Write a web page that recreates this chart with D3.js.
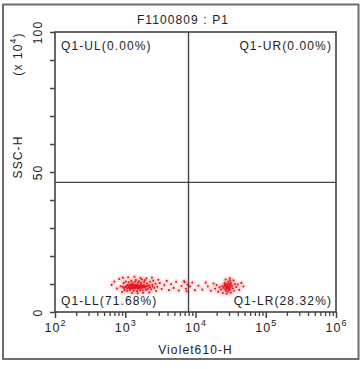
<!DOCTYPE html>
<html>
<head>
<meta charset="utf-8">
<script src="https://cdn.jsdelivr.net/npm/d3@7"></script>
<style>
  body { margin: 0; background: #fff; }
  svg text { font-family: "Liberation Sans", Arial, sans-serif; fill: #222; letter-spacing: 1.1px; }
</style>
</head>
<body>
<div id="chart"></div>
<script>
// events: [Violet610-H, SSC-H (x 10^4)]
const llEvents = [
  [1010, 8.9], [1040, 9.3], [1060, 8.5], [1090, 9.6], [1110, 9.0], [1130, 8.7], [1150, 9.4], [1160, 8.3],
  [1180, 9.8], [1200, 9.1], [1210, 8.6], [1230, 9.5], [1250, 8.9], [1260, 9.2], [1280, 8.4], [1300, 9.7],
  [1310, 9.0], [1330, 8.6], [1340, 9.3], [1360, 8.8], [1380, 9.6], [1390, 9.1], [1410, 8.5], [1430, 9.4],
  [1440, 8.9], [1460, 9.8], [1480, 8.7], [1500, 9.2], [1520, 8.4], [1540, 9.5], [1560, 9.0], [1580, 8.6],
  [1610, 9.3], [1640, 8.9], [1670, 9.7], [1700, 8.5], [1730, 9.1], [1760, 9.4], [1800, 8.8], [1840, 9.6],
  [1880, 9.0], [1930, 8.7], [1980, 9.3], [920, 9.0], [960, 8.6], [2100, 9.2], [2250, 8.8], [2450, 9.1],
  [950, 10.4], [980, 7.8], [1020, 10.9], [1070, 7.5], [1120, 10.6], [1170, 7.9], [1220, 11.1], [1270, 10.3],
  [1320, 7.6], [1370, 10.8], [1420, 11.4], [1470, 7.4], [1520, 10.5], [1570, 11.0], [1620, 7.8], [1680, 10.4],
  [1720, 11.6], [1780, 7.7], [1850, 10.7], [1900, 11.3], [1960, 7.9], [2040, 10.2], [2100, 8.3], [2180, 9.5],
  [2260, 10.8], [2340, 8.1], [2420, 9.7], [2500, 11.2], [2600, 8.6], [2700, 10.1], [2850, 9.0], [2950, 11.5],
  [640, 9.7], [700, 10.9], [760, 8.4], [820, 11.8], [860, 9.2], [900, 7.1], [930, 12.2], [1100, 12.4],
  [1250, 6.8], [1350, 12.6], [1500, 6.7], [1650, 12.1], [1800, 6.9], [2000, 12.0], [2200, 7.0], [2400, 12.3],
  [2750, 7.5], [3100, 10.4], [3300, 8.2], [3600, 9.6], [3900, 11.1], [4200, 7.8], [4500, 9.9], [4900, 8.6],
  [5300, 10.8], [5800, 7.7], [6300, 9.3], [6900, 11.0], [7000, 10.6], [7300, 8.3], [7500, 7.4], [7700, 9.7]
];

const lrEvents = [
  [25000, 8.6], [25800, 9.4], [26500, 8.1], [27000, 9.0], [27500, 9.8], [28000, 8.4], [28500, 9.3], [29000, 8.7],
  [29500, 10.1], [30000, 9.0], [30500, 8.2], [31000, 9.6], [31500, 8.8], [32000, 10.3], [27200, 7.6], [28800, 7.3],
  [30200, 7.8], [26000, 10.4], [29200, 10.8], [31200, 11.2], [33000, 9.4], [34000, 8.5], [24000, 9.2], [23000, 8.0],
  [22000, 8.8], [26200, 9.7], [28200, 10.0], [30800, 9.9], [27700, 8.9], [29800, 8.3],
  [21000, 7.2], [20000, 9.6], [19000, 8.3], [18000, 10.2], [16500, 7.6], [15000, 9.1], [14000, 10.5], [12500, 8.0],
  [11000, 9.4], [24500, 6.8], [27800, 6.5], [31800, 6.9], [35500, 7.6], [36500, 10.0], [38000, 8.9], [40000, 9.8],
  [42000, 7.9], [45000, 10.4], [48000, 9.1], [26800, 11.6], [30800, 12.0], [34800, 11.3], [8400, 9.1], [9000, 10.5],
  [9800, 7.8]
];

const xDomain = [1e2, 1e6];
const yDomain = [0, 100];
const xMajorTicks = [1e2, 1e3, 1e4, 1e5, 1e6];
const yTicks = d3.range(0, 101, 10);
const yLabeled = [0, 50, 100];
const quadGate = { x: 7950, y: 46.3 };
const quadLabels = [
  { name: "Q1-UL(0.00%)", pos: "ul" },
  { name: "Q1-UR(0.00%)", pos: "ur" },
  { name: "Q1-LL(71.68%)", pos: "ll" },
  { name: "Q1-LR(28.32%)", pos: "lr" }
];
const title = "F1100809 : P1";
const xTitle = "Violet610-H";
const yTitle = "SSC-H";

const width = 363;
const height = 369;
const margin = { top: 32, right: 27, bottom: 57, left: 55 };
const lineColor = "#444";

const svg = d3.select("#chart").append("svg")
  .attr("width", width)
  .attr("height", height);

// outer frame
svg.append("rect")
  .attr("x", 3).attr("y", 4.5)
  .attr("width", 355.5).attr("height", 354.5)
  .attr("fill", "none")
  .attr("stroke", "#6e6e6e")
  .attr("stroke-width", 2);

const x = d3.scaleLog()
  .domain(xDomain)
  .range([margin.left, width - margin.right]);

const y = d3.scaleLinear()
  .domain(yDomain)
  .range([height - margin.bottom, margin.top]);

const x0 = x.range()[0], x1 = x.range()[1];
const y0 = y.range()[0], y1 = y.range()[1];

// x minor ticks
const xMinor = [];
xMajorTicks.slice(0, -1).forEach(d => {
  for (let k = 2; k <= 9; k++) xMinor.push(d * k);
});

svg.append("g")
  .attr("class", "x minor")
  .attr("transform", `translate(0,${y0})`)
  .call(d3.axisBottom(x).tickValues(xMinor).tickSize(4).tickFormat(""))
  .call(g => g.select(".domain").remove())
  .call(g => g.selectAll("line").attr("stroke", lineColor).attr("stroke-width", 1.3));

const xAxisG = svg.append("g")
  .attr("class", "x axis")
  .attr("transform", `translate(0,${y0})`)
  .call(d3.axisBottom(x).tickValues(xMajorTicks).tickSize(6).tickFormat(""))
  .call(g => g.select(".domain").remove())
  .call(g => g.selectAll("line").attr("stroke", lineColor).attr("stroke-width", 1.5));

xAxisG.selectAll(".tick").append("text")
  .attr("y", 20)
  .attr("text-anchor", "middle")
  .attr("font-size", 12.5)
  .each(function (d) {
    const t = d3.select(this);
    t.append("tspan").text("10");
    t.append("tspan").attr("font-size", 9).attr("dy", -6).text(Math.round(Math.log10(d)));
  });

const yAxisG = svg.append("g")
  .attr("class", "y axis")
  .attr("transform", `translate(${x0},0)`)
  .call(d3.axisLeft(y).tickValues(yTicks).tickSize(5).tickFormat(d => yLabeled.includes(d) ? d : ""))
  .call(g => g.select(".domain").remove())
  .call(g => g.selectAll("line").attr("stroke", lineColor).attr("stroke-width", 1.5));

yAxisG.selectAll(".tick text")
  .attr("transform", "rotate(-90)")
  .attr("x", 0)
  .attr("y", -13)
  .attr("dy", 0)
  .attr("text-anchor", "middle")
  .attr("font-size", 12)
  .attr("fill", "#222");

// plot box
svg.append("rect")
  .attr("x", x0).attr("y", y1)
  .attr("width", x1 - x0).attr("height", y0 - y1)
  .attr("fill", "none")
  .attr("stroke", lineColor)
  .attr("stroke-width", 1.6);

// events
const events = llEvents.concat(lrEvents);
const dots = svg.append("g").attr("class", "events");

dots.selectAll("circle.halo")
  .data(events)
  .join("circle")
  .attr("class", "halo")
  .attr("cx", d => x(d[0]))
  .attr("cy", d => y(d[1]))
  .attr("r", 3)
  .attr("fill", "#f08080")
  .attr("opacity", 0.2);

dots.selectAll("circle.dot")
  .data(events)
  .join("circle")
  .attr("class", "dot")
  .attr("cx", d => x(d[0]))
  .attr("cy", d => y(d[1]))
  .attr("r", 1.05)
  .attr("fill", "#e3161c");

// quadrant gate
svg.append("line")
  .attr("x1", x(quadGate.x)).attr("x2", x(quadGate.x))
  .attr("y1", y1).attr("y2", y0)
  .attr("stroke", lineColor).attr("stroke-width", 1.4);

svg.append("line")
  .attr("x1", x0).attr("x2", x1)
  .attr("y1", y(quadGate.y)).attr("y2", y(quadGate.y))
  .attr("stroke", lineColor).attr("stroke-width", 1.4);

// quadrant labels
svg.append("g").selectAll("text")
  .data(quadLabels)
  .join("text")
  .attr("x", d => d.pos[1] === "l" ? x0 + 6 : x1 - 4)
  .attr("y", d => d.pos[0] === "u" ? y1 + 18 : y0 - 7)
  .attr("text-anchor", d => d.pos[1] === "l" ? "start" : "end")
  .attr("font-size", 12)
  .text(d => d.name);

// titles
svg.append("text")
  .attr("x", 183).attr("y", 24)
  .attr("text-anchor", "middle")
  .attr("font-size", 12)
  .text(title);

svg.append("text")
  .attr("x", (x0 + x1) / 2).attr("y", 354)
  .attr("text-anchor", "middle")
  .attr("font-size", 12)
  .text(xTitle);

svg.append("text")
  .attr("transform", "translate(22,157) rotate(-90)")
  .attr("text-anchor", "middle")
  .attr("font-size", 12)
  .text(yTitle);

const unit = svg.append("text")
  .attr("transform", "translate(22,54) rotate(-90)")
  .attr("text-anchor", "middle")
  .attr("font-size", 12);
unit.append("tspan").text("(x 10");
unit.append("tspan").attr("font-size", 9).attr("dy", -6).text("4");
unit.append("tspan").attr("dy", 6).text(")");
</script>
</body>
</html>
